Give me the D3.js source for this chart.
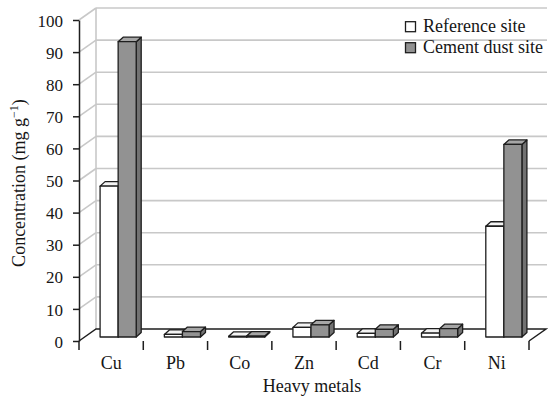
<!DOCTYPE html>
<html>
<head>
<meta charset="utf-8">
<script src="https://cdn.jsdelivr.net/npm/d3@7"></script>
<style>
  html, body { margin: 0; padding: 0; background: #fff; }
  svg { display: block; }
  text { font-family: "Liberation Serif", "Times New Roman", serif; fill: #161616; }
</style>
</head>
<body>
<svg id="chart" width="548" height="398"></svg>
<script>
// ---- data ----
const categories = ["Cu", "Pb", "Co", "Zn", "Cd", "Cr", "Ni"];
const seriesNames = ["Reference site", "Cement dust site"];
const referenceSite = [47, 0.8, 0.2, 3.0, 1.1, 1.2, 34.5];
const cementDustSite = [92, 1.7, 0.3, 3.8, 2.4, 2.6, 60];
const yTicks = [0, 10, 20, 30, 40, 50, 60, 70, 80, 90, 100];
const axisTitleX = "Heavy metals";
const axisTitleY = "Concentration (mg g";

// ---- layout ----
const svg = d3.select("#chart");
const plotL = 79, plotR = 529, plotT = 20, plotB = 341;
const wallDX = 17, wallDY = -12;      // floor depth
const barShiftX = 7, barShiftY = -4;  // bar front-plane offset
const barDX = 5, barDY = -4.5;        // bar depth
const serif = "'Liberation Serif', 'Times New Roman', serif";

const x = d3.scaleBand().domain(categories).range([plotL, plotR]).paddingInner(0).paddingOuter(0);
const y = d3.scaleLinear().domain([0, 100]).range([plotB, plotT]);
const sub = d3.scaleBand().domain(seriesNames).range([0, x.bandwidth()]).paddingInner(0).paddingOuter(0.78);

const gridColor = "#c8c8c8";
const fills = { "Reference site": ["#ffffff", "#e6e6e6", "#f4f4f4"], "Cement dust site": ["#929292", "#727272", "#a6a6a6"] };
const strokeCol = "#1e1e1e";

// back wall gridlines + left wall diagonals
const grid = svg.append("g");
yTicks.forEach(t => {
  if (t === 0) return;
  grid.append("line").attr("x1", plotL + wallDX).attr("x2", plotR + wallDX + 1)
    .attr("y1", y(t) + wallDY).attr("y2", y(t) + wallDY)
    .attr("stroke", gridColor).attr("stroke-width", 1.6);
  grid.append("line").attr("x1", plotL).attr("x2", plotL + wallDX)
    .attr("y1", y(t)).attr("y2", y(t) + wallDY)
    .attr("stroke", gridColor).attr("stroke-width", 1.6);
});
grid.append("line").attr("x1", plotL + wallDX).attr("x2", plotL + wallDX)
  .attr("y1", y(100) + wallDY).attr("y2", y(0) + wallDY)
  .attr("stroke", gridColor).attr("stroke-width", 1.6);

// floor
svg.append("path")
  .attr("d", `M${plotL},${y(0)}L${plotL + wallDX},${y(0) + wallDY}L${plotR + wallDX},${y(0) + wallDY}L${plotR},${y(0)}`)
  .attr("fill", "none").attr("stroke", strokeCol).attr("stroke-width", 1.5);

// bars
const series = [
  { name: seriesNames[0], values: referenceSite },
  { name: seriesNames[1], values: cementDustSite }
];
const barsG = svg.append("g");
categories.forEach((c, i) => {
  series.forEach(s => {
    const v = s.values[i];
    const x0 = x(c) + sub(s.name) + barShiftX;
    const x1 = x0 + sub.bandwidth();
    const yb = y(0) + barShiftY;
    const yt = y(v) + barShiftY;
    const f = fills[s.name];
    const g = barsG.append("g").attr("stroke", strokeCol).attr("stroke-width", 1.3).attr("stroke-linejoin", "round");
    g.append("path").attr("d", `M${x1},${yb}L${x1 + barDX},${yb + barDY}L${x1 + barDX},${yt + barDY}L${x1},${yt}Z`).attr("fill", f[1]);
    g.append("path").attr("d", `M${x0},${yt}L${x0 + barDX},${yt + barDY}L${x1 + barDX},${yt + barDY}L${x1},${yt}Z`).attr("fill", f[2]);
    g.append("rect").attr("x", x0).attr("y", yt).attr("width", x1 - x0).attr("height", Math.max(0.1, yb - yt)).attr("fill", f[0]);
  });
});

// y axis
const yAxis = d3.axisLeft(y).tickValues(yTicks).tickSize(6).tickPadding(10).tickSizeOuter(0);
const gy = svg.append("g").attr("transform", `translate(${plotL},0)`).call(yAxis);
gy.attr("font-family", serif);
gy.select(".domain").attr("stroke", strokeCol).attr("stroke-width", 1.5);
gy.selectAll(".tick line").attr("stroke", strokeCol).attr("stroke-width", 1.5);
gy.selectAll(".tick text").attr("font-size", 17).attr("fill", "#161616").attr("dy", "0.36em")
  .style("font-family", serif);

// x axis: labels at band centres, ticks at band boundaries
const gx = svg.append("g").attr("transform", `translate(0,${plotB})`)
  .call(d3.axisBottom(x).tickSize(0).tickPadding(15));
gx.attr("font-family", serif);
gx.select(".domain").remove();
gx.selectAll(".tick text").attr("font-size", 18).attr("fill", "#161616")
  .style("font-family", serif);
const bounds = categories.map(c => x(c)).concat([x(categories[categories.length - 1]) + x.bandwidth()]);
svg.append("g").selectAll("line").data(bounds).join("line")
  .attr("x1", d => d).attr("x2", d => d).attr("y1", plotB).attr("y2", plotB + 9)
  .attr("stroke", strokeCol).attr("stroke-width", 1.5);

// axis titles
svg.append("text").attr("x", 312).attr("y", 392).attr("text-anchor", "middle")
  .attr("font-size", 18).text(axisTitleX);
const ytl = svg.append("text").attr("transform", `translate(25,183) rotate(-90)`).attr("text-anchor", "middle")
  .attr("font-size", 18);
ytl.append("tspan").text(axisTitleY);
ytl.append("tspan").attr("font-size", 12).attr("dy", -7).text("\u2212");
ytl.append("tspan").attr("font-size", 12).text("1");
ytl.append("tspan").attr("font-size", 18).attr("dy", 7).text(")");

// legend
const legend = svg.append("g");
seriesNames.forEach((n, i) => {
  const ly = 21.7 + i * 21;
  legend.append("rect").attr("x", 405.5).attr("y", ly).attr("width", 10).attr("height", 10)
    .attr("fill", fills[n][0]).attr("stroke", strokeCol).attr("stroke-width", 1.3);
  legend.append("text").attr("x", 423).attr("y", ly + 10.6).attr("font-size", 18).text(n);
});
</script>
</body>
</html>
